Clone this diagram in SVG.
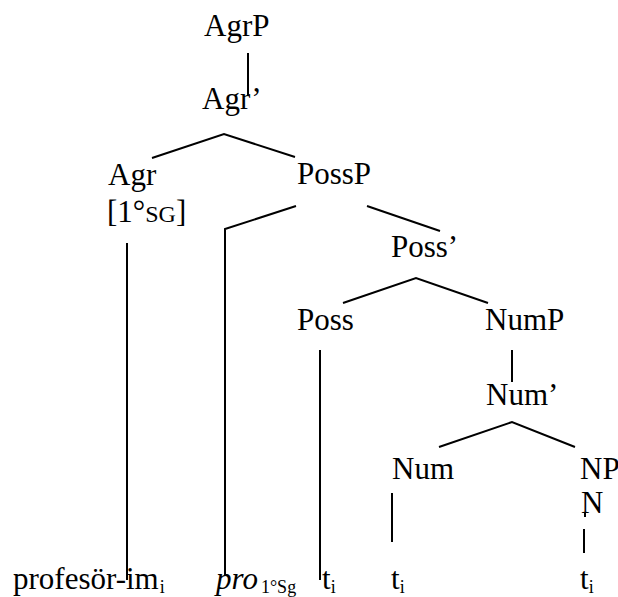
<svg xmlns="http://www.w3.org/2000/svg" width="618" height="597" viewBox="0 0 618 597">
<style>
.sub{font-size:18px}
.sc{font-size:24px}
.subsm{font-size:18px}
.it{font-style:italic}
.c line,.c polyline{stroke:#000;stroke-width:2;fill:none}
</style>
<rect width="618" height="597" fill="#fff"/>
<g id="connectors" class="c">
<line x1="248" y1="53" x2="248" y2="95"/>
<polyline points="152,158 224,134 295,157"/>
<polyline points="296,206 225,229 225,575"/>
<line x1="367" y1="206" x2="440" y2="231"/>
<line x1="127" y1="243" x2="127" y2="580"/>
<line x1="320" y1="350" x2="320" y2="580"/>
<polyline points="343,303 416,278 488,303"/>
<line x1="512" y1="350" x2="512" y2="382"/>
<polyline points="439,447 512,422 575,447"/>
<line x1="392" y1="493" x2="392" y2="542"/>
<line x1="585" y1="512" x2="585" y2="517"/>
<line x1="584" y1="529" x2="584" y2="553"/>
</g>
<g font-family="Liberation Serif, Times New Roman, Times, DejaVu Serif, serif" font-size="31" fill="#000">
<g id="AgrP"><text x="204" y="36">AgrP</text></g>
<g id="AgrBar"><text x="202" y="109">Agr’</text></g>
<g id="Agr"><text x="108" y="185">Agr</text><text x="107" y="222">[1°<tspan class="sc">SG</tspan>]</text></g>
<g id="PossP"><text x="297" y="184">PossP</text></g>
<g id="PossBar"><text x="391" y="257">Poss’</text></g>
<g id="Poss"><text x="297" y="330">Poss</text></g>
<g id="NumP"><text x="485" y="330">NumP</text></g>
<g id="NumBar"><text x="486" y="405">Num’</text></g>
<g id="Num"><text x="392" y="479">Num</text></g>
<g id="NP"><text x="580" y="479">NP</text></g>
<g id="N"><text x="581" y="513">N</text></g>
<g id="leaf-profesor"><text x="13" y="589">profesör-im<tspan class="sub" dx="1" dy="4">i</tspan></text></g>
<g id="leaf-pro"><text x="216" y="589"><tspan class="it">pro</tspan><tspan class="subsm" dx="3" dy="4">1°Sg</tspan></text></g>
<g id="leaf-t1"><text x="322" y="589">t<tspan class="sub" dy="4">i</tspan></text></g>
<g id="leaf-t2"><text x="391" y="589">t<tspan class="sub" dy="4">i</tspan></text></g>
<g id="leaf-t3"><text x="580" y="589">t<tspan class="sub" dy="4">i</tspan></text></g>
</g>
</svg>
